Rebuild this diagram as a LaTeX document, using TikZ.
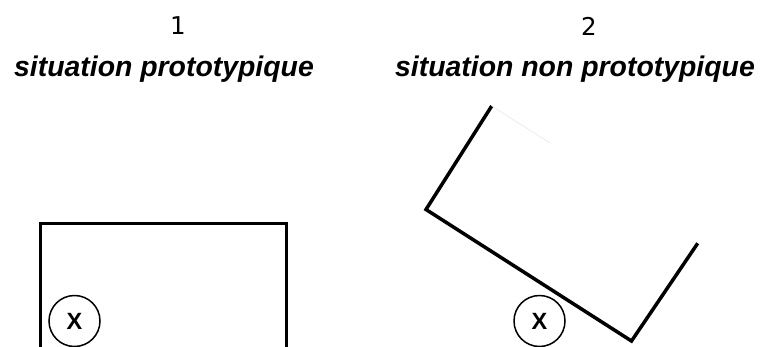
\documentclass[tikz,border=0pt]{standalone}
\usepackage{fontspec}
\setmainfont{Liberation Sans}
\newfontfamily\numfont{DejaVu Sans}
\usepackage{tikz}
\usetikzlibrary{positioning}

\begin{document}
\begin{tikzpicture}[x=1pt, y=-1pt,
  num/.style={font=\numfont\fontsize{24.5}{28}\selectfont, inner sep=0pt},
  titre/.style={font=\fontsize{28.4}{32}\selectfont\bfseries\itshape, inner sep=0pt, anchor=base},
  cible/.style={draw, circle, line width=1.5pt, minimum size=51pt, inner sep=0pt,
                font=\fontsize{23.5}{26}\selectfont\bfseries},
  mur/.style={line width=3.5pt, line join=miter}]
\useasboundingbox (0,0) rectangle (763,346);
% situation 1
\node[num] (num1) at (178,26) {1};
\node[titre] (titre1) at (164,76) {situation prototypique};
\draw[mur] (40.7,350) -- (40.7,223.3) -- (286.7,223.3) -- (286.7,350);
\node[cible] (x1) at (74.5,321) {X};
% situation 2
\node[num] (num2) at (589,26) {2};
\node[titre] (titre2) at (575,76) {situation non prototypique};
\draw[mur] (491.7,106) -- (426,209.5) -- (631.5,341) -- (697.7,243.3);
\draw[gray!25, line width=0.4pt] (491.7,106) -- (550,143);
\node[cible] (x2) at (539.5,321) {X};
\end{tikzpicture}
\end{document}
